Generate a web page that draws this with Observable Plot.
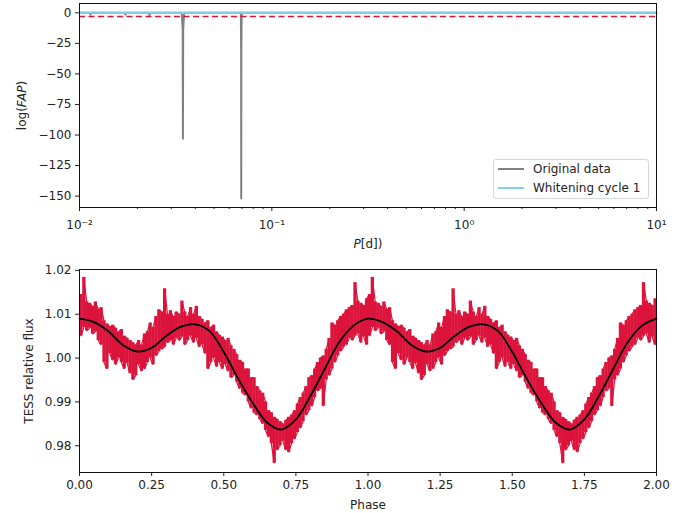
<!DOCTYPE html>
<html>
<head>
<meta charset="utf-8">
<script src="https://cdn.jsdelivr.net/npm/d3@7"></script>
<script src="https://cdn.jsdelivr.net/npm/@observablehq/plot@0.6"></script>
<style>
  html, body { margin: 0; padding: 0; background: #fff; }
  #fig { position: relative; width: 688px; height: 513px; font-family: "DejaVu Sans", sans-serif; }
  #fig svg { display: block; }
  .legend { position: absolute; left: 493px; top: 159px; width: 156px; height: 40px; box-sizing: border-box;
    border: 1px solid #d6d6d6; border-radius: 3px; background: rgba(255,255,255,0.85); font-size: 12px; color: #222; }
  .legend .row { position: absolute; left: 0; height: 16px; line-height: 16px; }
  .legend .sw { position: absolute; left: 4px; top: 7px; width: 26px; height: 0; border-top: 2px solid; }
  .legend .lbl { position: absolute; left: 39px; white-space: nowrap; }
</style>
</head>
<body>
<div id="fig"></div>
<script>
// ---------- Top panel: periodogram (log FAP vs period) ----------
const periodOriginal = [0.01, 0.0113, 0.01141, 0.0115, 0.0172, 0.01734, 0.0175, 0.0229, 0.0231, 0.0233,
  0.0340, 0.0344, 0.03449, 0.0346, 0.0350, 0.0690, 0.06925, 0.06932, 0.06940, 0.0697, 10];
const logFapOriginal = [0, 0, -1.5, 0, 0, -1.5, 0, 0, -1.8, 0,
  0, -14, -103, -14, 0, 0, -30, -152, -30, 0, 0];
const periodWhitening = [0.01, 0.1, 1, 10];
const logFapWhitening = [0, 0, 0, 0];
const fapThreshold = -3;
const periodMajorTicks = [0.01, 0.1, 1, 10];
const periodMajorLabels = ["10⁻²", "10⁻¹", "10⁰", "10¹"];
const periodMinorTicks = [0.02,0.03,0.04,0.05,0.06,0.07,0.08,0.09,0.2,0.3,0.4,0.5,0.6,0.7,0.8,0.9,2,3,4,5,6,7,8,9];
const fapTicks = [0, -25, -50, -75, -100, -125, -150];

// ---------- Bottom panel: phase-folded TESS light curve (phase 0..1, repeated at +1) ----------
const binPhase = [0.005,0.015,0.025,0.035,0.045,0.055,0.065,0.075,0.085,0.095,
  0.105,0.115,0.125,0.135,0.145,0.155,0.165,0.175,0.185,0.195,
  0.205,0.215,0.225,0.235,0.245,0.255,0.265,0.275,0.285,0.295,
  0.305,0.315,0.325,0.335,0.345,0.355,0.365,0.375,0.385,0.395,
  0.405,0.415,0.425,0.435,0.445,0.455,0.465,0.475,0.485,0.495,
  0.505,0.515,0.525,0.535,0.545,0.555,0.565,0.575,0.585,0.595,
  0.605,0.615,0.625,0.635,0.645,0.655,0.665,0.675,0.685,0.695,
  0.705,0.715,0.725,0.735,0.745,0.755,0.765,0.775,0.785,0.795,
  0.805,0.815,0.825,0.835,0.845,0.855,0.865,0.875,0.885,0.895,
  0.905,0.915,0.925,0.935,0.945,0.955,0.965,0.975,0.985,0.995];
const fluxLow = [1.0050,1.0070,1.0062,1.0068,1.0055,1.0060,1.0040,1.0030,0.9990,0.9975,
  1.0010,0.9995,0.9985,1.0000,0.9990,0.9975,0.9988,0.9965,0.9950,0.9960,
  0.9985,0.9970,0.9975,0.9990,1.0000,0.9985,1.0005,1.0015,1.0020,1.0025,
  1.0035,1.0040,1.0030,1.0045,1.0040,1.0048,1.0030,1.0040,1.0050,1.0035,
  1.0045,1.0025,1.0030,1.0010,0.9975,0.9990,1.0000,0.9980,0.9990,0.9975,
  0.9985,0.9970,0.9955,0.9960,0.9945,0.9930,0.9920,0.9915,0.9900,0.9885,
  0.9875,0.9870,0.9860,0.9850,0.9835,0.9820,0.9805,0.9760,0.9790,0.9800,
  0.9810,0.9790,0.9785,0.9805,0.9815,0.9830,0.9840,0.9855,0.9870,0.9880,
  0.9890,0.9910,0.9925,0.9930,0.9890,0.9950,0.9960,0.9975,0.9990,1.0005,
  1.0015,1.0025,1.0030,1.0045,1.0040,1.0050,1.0055,1.0035,1.0048,1.0030];
const fluxHigh = [1.0145,1.0184,1.0128,1.0125,1.0118,1.0128,1.0112,1.0115,1.0085,1.0078,
  1.0072,1.0075,1.0068,1.0060,1.0065,1.0050,1.0045,1.0040,1.0035,1.0030,
  1.0040,1.0030,1.0055,1.0060,1.0080,1.0070,1.0095,1.0110,1.0105,1.0158,
  1.0100,1.0108,1.0095,1.0105,1.0100,1.0130,1.0105,1.0095,1.0115,1.0100,
  1.0118,1.0095,1.0088,1.0080,1.0085,1.0070,1.0075,1.0060,1.0052,1.0048,
  1.0040,1.0045,1.0028,1.0020,1.0008,0.9995,0.9990,0.9975,0.9975,0.9955,
  0.9955,0.9935,0.9925,0.9920,0.9900,0.9880,0.9875,0.9865,0.9860,0.9855,
  0.9850,0.9858,0.9865,0.9870,0.9880,0.9895,0.9910,0.9920,0.9935,0.9955,
  0.9960,0.9975,0.9990,1.0000,1.0005,1.0020,1.0045,1.0080,1.0075,1.0085,
  1.0095,1.0100,1.0110,1.0115,1.0120,1.0172,1.0130,1.0125,1.0120,1.0135];
const modelPhase = [0,0.05,0.1,0.15,0.2,0.25,0.3,0.35,0.4,0.45,0.5,0.55,0.6,0.65,0.7,0.75,0.8,0.85,0.9,0.95];
const modelFlux = [1.0090,1.0082,1.0061,1.0030,1.0015,1.0023,1.0050,1.0071,1.0077,1.0062,
  1.0014,0.9953,0.9898,0.9853,0.9837,0.9860,0.9913,0.9975,1.0036,1.0074];
const phaseTicks = [0, 0.25, 0.5, 0.75, 1, 1.25, 1.5, 1.75, 2];
const fluxTicks = [0.98, 0.99, 1.00, 1.01, 1.02];

// ---------- build tables ----------
const origTable = periodOriginal.map((p, i) => ({period: p, fap: logFapOriginal[i]}));
const whiteTable = periodWhitening.map((p, i) => ({period: p, fap: logFapWhitening[i]}));
const binTable = [];
for (const shift of [0, 1]) binPhase.forEach((p, i) => binTable.push({phase: p + shift, lo: fluxLow[i], hi: fluxHigh[i]}));
// zig-zag through each bin's extremes (folded data drawn twice)
const zigTable = [];
binTable.forEach((d, i) => {
  zigTable.push({phase: d.phase, flux: i % 2 ? d.lo : d.hi});
  zigTable.push({phase: d.phase, flux: i % 2 ? d.hi : d.lo});
});
const modelTable = [];
for (const shift of [0, 1]) modelPhase.forEach((p, i) => modelTable.push({phase: p + shift, flux: modelFlux[i]}));
modelTable.push({phase: 2, flux: modelFlux[0]});

const fontStyle = {fontFamily: "DejaVu Sans, sans-serif", fontSize: "12px", background: "white", color: "#222", overflow: "visible"};
const W = 688, ML = 79, MR = 32;

const topPlot = Plot.plot({
  width: W, height: 252, marginLeft: ML, marginRight: MR, marginTop: 3, marginBottom: 45,
  style: fontStyle,
  x: {type: "log", domain: [0.01, 10]},
  y: {domain: [-159.3, 7.6]},
  marks: [
    Plot.axisX({ticks: periodMinorTicks, tickSize: 2, tickFormat: () => "", label: null, stroke: "#222"}),
    Plot.axisX({ticks: periodMajorTicks, tickSize: 4, tickPadding: 9,
      tickFormat: d => periodMajorLabels[periodMajorTicks.indexOf(d)] ?? "",
      label: null, stroke: "#222"}),
    Plot.axisX({ticks: [], label: "P[d])", labelAnchor: "center", labelOffset: 40, labelArrow: "none"}),
    Plot.axisY({ticks: fapTicks, tickSize: 4, tickPadding: 4, tickFormat: d3.format("d"),
      label: "log(FAP)", labelAnchor: "center", labelOffset: 62, labelArrow: "none", stroke: "#222"}),
    Plot.line(origTable, {x: "period", y: "fap", stroke: "#808080", strokeWidth: 2}),
    Plot.line(whiteTable, {x: "period", y: "fap", stroke: "#87CEEB", strokeWidth: 2}),
    Plot.ruleY([fapThreshold], {stroke: "#DC143C", strokeWidth: 1.6, strokeDasharray: "6,3.5"}),
    Plot.frame({stroke: "#111"})
  ]
});

const bottomPlot = Plot.plot({
  width: W, height: 261, marginLeft: ML, marginRight: MR, marginTop: 17, marginBottom: 41,
  style: fontStyle,
  x: {domain: [0, 2]},
  y: {domain: [0.9739, 1.0202]},
  marks: [
    Plot.axisX({ticks: phaseTicks, tickSize: 4, tickPadding: 4, tickFormat: d3.format(".2f"),
      label: "Phase", labelAnchor: "center", labelOffset: 36, labelArrow: "none", stroke: "#222"}),
    Plot.axisY({ticks: fluxTicks, tickSize: 4, tickPadding: 4, tickFormat: d3.format(".2f"),
      label: "TESS relative flux", labelAnchor: "center", labelOffset: 55, labelArrow: "none", stroke: "#222"}),
    Plot.ruleX(binTable, {x: "phase", y1: "lo", y2: "hi", stroke: "#DC143C", strokeWidth: 3.3, shapeRendering: "geometricPrecision"}),
    Plot.line(zigTable, {x: "phase", y: "flux", stroke: "#DC143C", strokeWidth: 1.2, strokeLinejoin: "miter"}),
    Plot.line(modelTable, {x: "phase", y: "flux", stroke: "black", strokeWidth: 1.8, curve: "catmull-rom"}),
    Plot.frame({stroke: "#111"})
  ]
});

const fig = document.getElementById("fig");
fig.appendChild(topPlot);
fig.appendChild(bottomPlot);

// italic parts of axis labels (matplotlib mathtext)
function italicize(svg, sel, parts) {
  const t = d3.select(svg).selectAll(sel).filter(function () { return this.textContent.length > 0; });
  if (t.empty()) return;
  t.text(null);
  for (const [s, it] of parts) t.append("tspan").attr("font-style", it ? "italic" : null).text(s);
}
italicize(topPlot, 'g[aria-label="y-axis label"] text', [["log(", false], ["FAP", true], [")", false]]);
italicize(topPlot, 'g[aria-label="x-axis label"] text', [["P", true], ["[d])", false]]);

// legend
const leg = document.createElement("div");
leg.className = "legend";
leg.innerHTML =
  '<div class="row" style="top:1px"><span class="sw" style="border-color:#808080"></span><span class="lbl">Original data</span></div>' +
  '<div class="row" style="top:20px"><span class="sw" style="border-color:#87CEEB"></span><span class="lbl">Whitening cycle 1</span></div>';
fig.appendChild(leg);
</script>
</body>
</html>
